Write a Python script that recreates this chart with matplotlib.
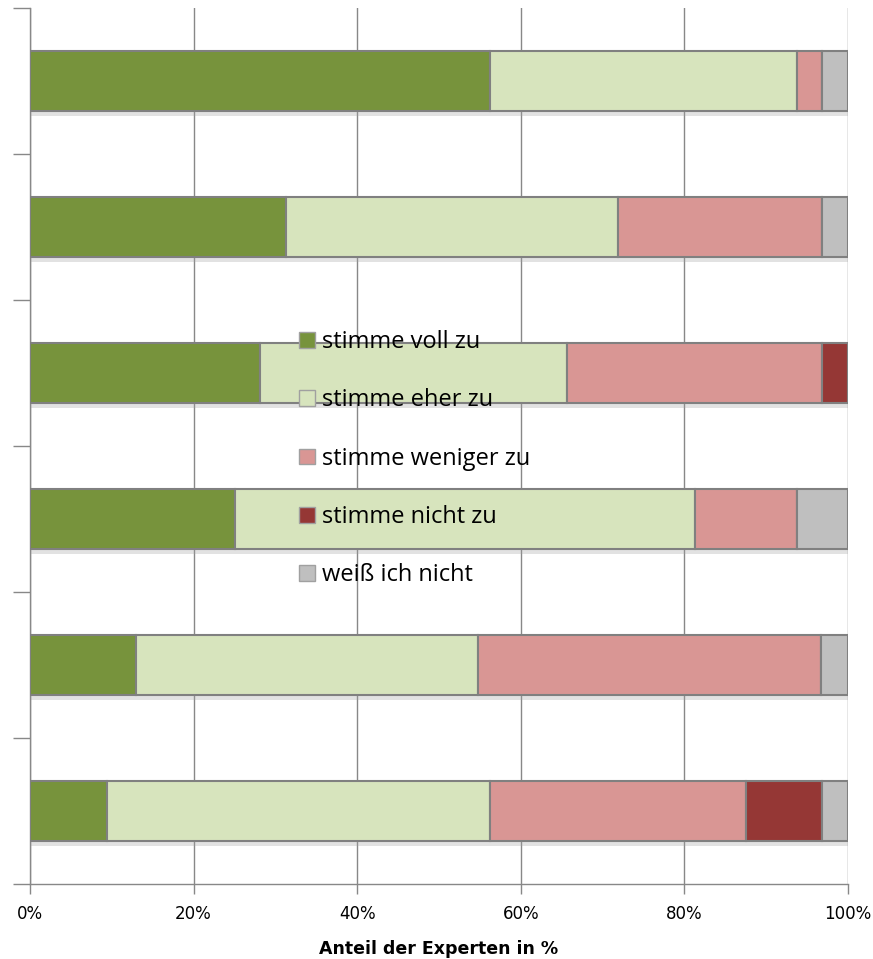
import numpy as np
import matplotlib.pyplot as plt
import matplotlib.patheffects as pe
from matplotlib.patches import Patch

# Shares per statement, top bar first (percent of experts)
categories = ["stimme voll zu", "stimme eher zu", "stimme weniger zu",
              "stimme nicht zu", "weiß ich nicht"]
voll = [56.25, 31.25, 28.125, 25.0, 12.9, 9.375]
eher = [37.5, 40.625, 37.5, 56.25, 41.9, 46.875]
weniger = [3.125, 25.0, 31.25, 12.5, 41.9, 31.25]
nicht = [0.0, 0.0, 3.125, 0.0, 0.0, 9.375]
weiss = [3.125, 3.125, 0.0, 6.25, 3.3, 3.125]
colors = ["#77933C", "#D7E4BD", "#D99694", "#953735", "#BFBFBF"]

series = [voll, eher, weniger, nicht, weiss]

fig = plt.figure(figsize=(8.73, 9.59), dpi=100)
W, H = 873, 959
ax = fig.add_axes([30 / W, (H - 884) / H, 818 / W, 876 / H])

y = np.arange(len(voll))
left = np.zeros(len(voll))
shadow = [pe.SimplePatchShadow(offset=(1, -4), shadow_rgbFace="#a0a0a0", alpha=0.3),
          pe.Normal()]
for vals, col in zip(series, colors):
    vals = np.array(vals)
    bars = ax.barh(y, vals, left=left, height=0.41, color=col,
                   edgecolor="#808080", linewidth=1.5, zorder=3)
    for b in bars:
        b.set_path_effects(shadow)
    left += vals

ax.set_xlim(0, 100)
ax.set_ylim(len(voll) - 0.5, -0.5)
ax.set_xticks(np.arange(0, 101, 20))
ax.set_xticklabels([f"{v}%" for v in range(0, 101, 20)], fontsize=12)
ax.set_yticks(np.arange(-0.5, len(voll), 1))
ax.set_yticklabels([])
ax.tick_params(axis="y", length=12, color="#888888", width=1)
ax.tick_params(axis="x", length=7, color="#888888", width=1, pad=8)
ax.grid(axis="x", color="#888888", lw=1, zorder=0)
for s in ["top", "right"]:
    ax.spines[s].set_visible(False)
for s in ["left", "bottom"]:
    ax.spines[s].set_color("#888888")
    ax.spines[s].set_linewidth(1)

ax.set_xlabel("Anteil der Experten in %", fontsize=12.5, fontweight="bold",
              labelpad=12)

handles = [Patch(facecolor=c, edgecolor="#A0A0A0", linewidth=1) for c in colors]
fig.legend(handles, categories, loc="upper left",
           bbox_to_anchor=(278 / W, 1 - 309 / H), frameon=False,
           prop={"family": "Open Sans", "size": 17},
           handlelength=0.65, handleheight=0.65, handletextpad=0.3,
           labelspacing=1.45)

fig.savefig("out.png", dpi=100)
